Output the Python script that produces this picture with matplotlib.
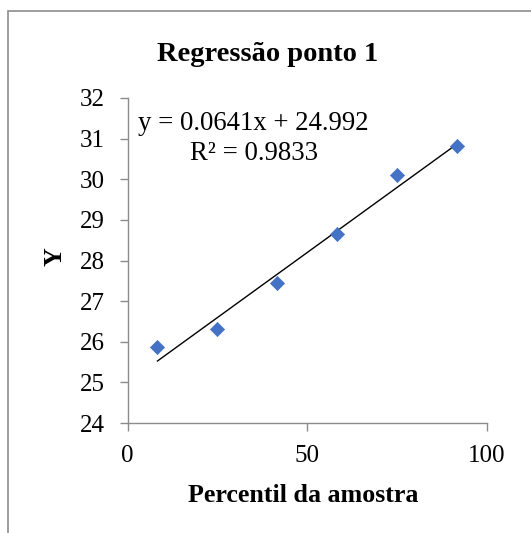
import matplotlib
matplotlib.use("Agg")
import matplotlib.pyplot as plt
from matplotlib.patches import Rectangle

# Sample percentiles and measured response
percentil = [8.33, 25.0, 41.67, 58.33, 75.0, 91.67]
y_vals = [25.88, 26.31, 27.44, 28.65, 30.10, 30.82]

# Linear trendline coefficients and fit quality
slope = 0.0641
intercept = 24.992
r2 = 0.9833

x_ticks = [0, 50, 100]
y_ticks = [24, 25, 26, 27, 28, 29, 30, 31, 32]

plt.rcParams['font.family'] = ['Liberation Serif', 'DejaVu Serif']

W, H = 531, 533
fig = plt.figure(figsize=(W / 100, H / 100), dpi=100)
ax = fig.add_axes([127.5 / W, 1 - 423 / H, (487 - 127.5) / W, (423 - 98) / H])

# Outer chart-area frame
fig.patches.append(Rectangle((8 / W, -0.1), 1.2, 1.1 - 11 / H,
                             transform=fig.transFigure, fill=False,
                             edgecolor='#8c8c8c', linewidth=1.2, zorder=0))

ax.scatter(percentil, y_vals, marker='D', s=52, color='#4472C4',
           edgecolors='#4472C4', linewidths=0.5, zorder=3)

x_line = [percentil[0], percentil[-1]]
ax.plot(x_line, [slope * v + intercept for v in x_line],
        color='black', linewidth=1.0, zorder=2)

ax.set_xlim(0, 100)
ax.set_ylim(24, 32)
ax.set_xticks(x_ticks)
ax.set_yticks(y_ticks)

for side in ('top', 'right'):
    ax.spines[side].set_visible(False)
for side in ('left', 'bottom'):
    ax.spines[side].set_color('#8c8c8c')
    ax.spines[side].set_linewidth(1.0)

ax.tick_params(axis='both', direction='out', length=5.5, width=1.0,
               color='#8c8c8c', labelsize=18, labelcolor='black')
ax.tick_params(axis='x', pad=10)
ax.tick_params(axis='y', pad=11)

def px(x, y):
    return x / W, 1 - y / H

fig.text(*px(268, 61), 'Regressão ponto 1', fontsize=20.5,
         fontweight='bold', ha='center', va='baseline')
fig.text(*px(303, 502), 'Percentil da amostra', fontsize=18.7,
         fontweight='bold', ha='center', va='baseline')
fig.text(*px(55, 257), 'Y', fontsize=18.7, fontweight='bold',
         rotation=90, ha='center', va='center')

fig.text(*px(253, 130), f'y = {slope}x + {intercept}',
         fontsize=19.3, ha='center', va='baseline')
fig.text(*px(253.5, 160.5), f'R² = {r2}',
         fontsize=19.3, ha='center', va='baseline')

fig.savefig('out.png', dpi=100)
